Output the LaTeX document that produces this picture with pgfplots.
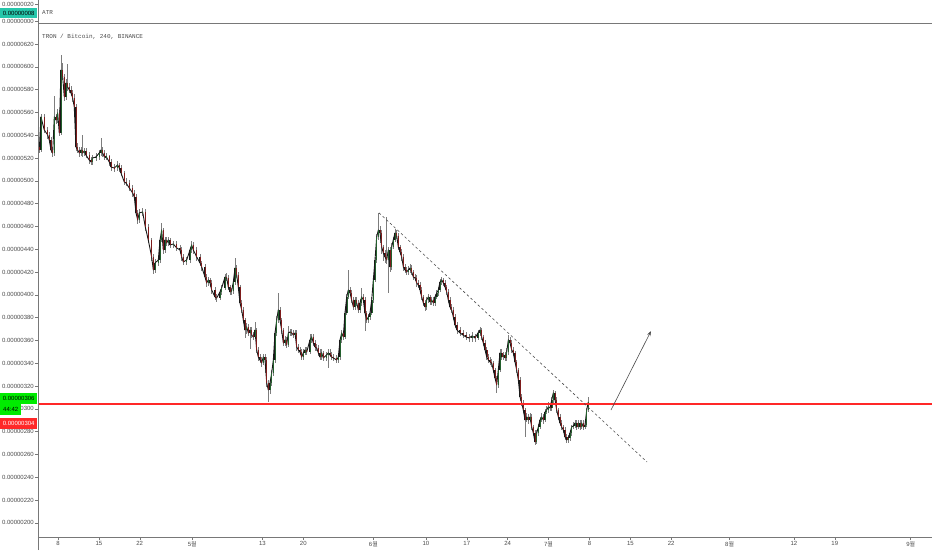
\documentclass[border=0pt]{standalone}
\usepackage{fontspec}
\setmainfont{Liberation Sans}
\newfontfamily\kr{Noto Sans CJK KR}
\newfontfamily\mono{Liberation Mono}
\usepackage{pgfplots}
\pgfplotsset{compat=1.18}
\usepackage{pgfplotstable}
\usetikzlibrary{arrows.meta}
\definecolor{wick}{RGB}{125,125,125}
\definecolor{upc}{RGB}{35,95,45}
\definecolor{dnc}{RGB}{125,28,28}
\definecolor{lvl}{RGB}{255,40,40}
\definecolor{axc}{RGB}{120,120,120}
\definecolor{lbl}{RGB}{75,75,75}
\definecolor{atrc}{RGB}{38,198,170}
\definecolor{pgreen}{RGB}{0,235,0}

\pgfplotstableread{
x o h l c
3.80 530.0 533 524 527.0
4.09 527.0 559 525 556.0
4.65 556.0 559 542 544.6
5.24 544.6 547 537 540.2
5.51 540.2 543 533 535.8
5.80 535.8 538 524 527.0
6.09 527.0 530 521 524.4
6.37 524.4 574.4 522 556.0
6.66 556.0 559 550 553.3
6.95 553.3 563 551 559.5
7.22 559.5 562 539 541.9
7.51 541.9 610.4 540 597.2
7.81 597.2 603 588 591.1
8.08 591.1 594 570 573.5
8.37 573.5 589 571 585.8
8.66 585.8 602 579 582.3
8.94 582.3 586 577 579.7
9.23 579.7 583 574 577.0
9.52 577.0 580 569 572.6
9.79 572.6 576 562 564.7
10.08 564.7 567 526 529.7
10.37 529.7 533 524 527.0
10.65 527.0 530 521 524.4
10.94 524.4 530 522 527.0
11.23 527.0 540 521 524.4
11.50 524.4 529 522 526.1
11.79 526.1 529 520 522.6
12.36 522.6 525 515 518.2
12.65 518.2 521 514 516.5
12.94 516.5 523 514 520.0
13.51 520.0 524 517 520.9
14.07 520.9 527 518 524.4
14.36 524.4 537.5 522 527.0
14.65 527.0 530 521 524.4
14.93 524.4 527 518 520.9
15.22 520.9 524 518 521.5
15.78 521.5 523 513 516.5
16.08 516.5 519 509 512.1
16.64 512.1 515 508 511.2
17.22 511.2 517 509 513.9
17.50 513.9 516 508 511.2
17.79 511.2 514 504 506.8
18.35 506.8 509 496 499.0
18.64 499.0 502 495 498.1
19.21 498.1 501 491 493.7
19.79 493.7 496 486 489.3
20.07 489.3 492 483 485.8
20.36 485.8 488 469 471.8
20.65 471.8 474 462 465.6
20.92 465.6 475 463 471.8
21.50 471.8 476 469 472.6
21.95 472.6 475 456 459.5
22.46 459.5 462 445 448.1
23.04 448.1 450 430 433.2
23.32 433.2 436 418 421.8
23.61 421.8 431 419 427.9
24.18 427.9 434 425 430.5
24.47 430.5 451 428 448.1
24.76 448.1 462.6 446 456.8
25.03 456.8 459 436 439.3
25.32 439.3 451 437 448.1
25.61 448.1 451 443 445.4
25.89 445.4 451 443 448.1
26.18 448.1 450 441 443.7
26.74 443.7 447 441 444.5
27.33 444.5 447 438 441.1
27.89 441.1 444 436 439.3
28.18 439.3 442 430 433.2
28.46 433.2 436 426 428.8
29.04 428.8 433 426 430.5
29.60 430.5 442 428 439.3
29.89 439.3 447 437 443.7
30.17 443.7 446 436 439.3
30.75 439.3 442 430 433.2
31.32 433.2 436 425 427.9
31.61 427.9 430 421 424.4
32.17 424.4 427 413 415.6
32.46 415.6 418 407 410.4
32.74 410.4 416 408 413.0
33.03 413.0 415 407 410.4
33.32 410.4 413 401 404.2
33.88 404.2 407 395 398.1
34.18 398.1 401 394 397.2
34.74 397.2 405 395 402.5
35.03 402.5 409 400 406.0
35.60 406.0 418 404 415.6
35.89 415.6 419 412 414.7
36.16 414.7 417 404 406.8
36.45 406.8 409 400 402.5
36.74 402.5 406 400 403.5
37.02 403.5 414 401 411.2
37.31 411.2 432.3 409 423.5
37.60 423.5 426 415 417.4
37.87 417.4 420 404 406.8
38.16 406.8 409 390 392.8
38.46 392.8 395 384 386.7
38.73 386.7 389 375 377.9
39.02 377.9 380 362 369.1
39.31 369.1 375 366 371.8
39.59 371.8 374 364 366.5
39.88 366.5 372 352 369.1
40.17 369.1 372 362 364.7
40.44 364.7 367 360 363.0
40.73 363.0 376 361 369.1
41.02 369.1 371 349 351.6
41.30 351.6 354 342 345.4
41.59 345.4 348 340 342.8
41.88 342.8 345 337 340.2
42.15 340.2 348 338 345.4
42.45 345.4 348 331 342.8
42.74 342.8 345 319 322.6
43.01 322.6 325 306.0 316.5
43.30 316.5 326 313 322.6
43.59 322.6 334 320 331.4
43.87 331.4 346 329 342.8
44.16 342.8 369 340 366.5
44.45 366.5 381 364 377.9
44.72 377.9 401.6 375 386.7
45.01 386.7 389 375 377.9
45.30 377.9 380 366 369.1
45.58 369.1 371 355 357.7
45.87 357.7 364 355 360.4
46.16 360.4 363 353 356.0
46.44 356.0 373 354 366.5
46.73 366.5 370 364 367.4
47.02 367.4 370 364 366.5
47.29 366.5 369 362 364.7
47.58 364.7 369 362 366.5
47.87 366.5 369 351 354.2
48.15 354.2 357 349 351.6
48.44 351.6 354 347 349.8
48.73 349.8 352 343 345.4
49.00 345.4 352 343 349.0
49.29 349.0 354 347 351.6
49.59 351.6 354 347 349.8
50.15 349.8 366 348 360.4
50.44 360.4 366 358 363.0
50.72 363.0 366 355 357.7
51.01 357.7 360 351 354.2
51.30 354.2 357 351 353.3
51.57 353.3 356 346 349.0
51.86 349.0 352 343 345.4
52.15 345.4 352 343 349.0
52.43 349.0 351 342 344.6
53.01 344.6 350 342 347.2
53.28 347.2 352 335.8 349.0
53.58 349.0 352 345 347.2
53.87 347.2 350 343 345.4
54.14 345.4 348 342 344.6
54.72 344.6 347 340 342.8
55.00 342.8 348 340 345.4
55.29 345.4 363 343 360.4
55.58 360.4 369 358 366.5
55.85 366.5 369 360 363.0
56.14 363.0 387 361 384.0
56.44 384.0 401 382 398.1
56.71 398.1 421.8 396 404.2
57.00 404.2 407 399 401.6
57.29 401.6 404 393 395.4
57.57 395.4 398 387 389.3
57.86 389.3 398 387 395.4
58.15 395.4 398 390 392.8
58.42 392.8 395 384 386.7
58.71 386.7 396 384 392.8
59.00 392.8 406 390 398.1
59.28 398.1 401 393 395.4
59.57 395.4 398 368 384.0
59.86 384.0 386 375 377.9
60.13 377.9 383 375 380.5
60.42 380.5 387 378 384.0
60.72 384.0 398 382 395.4
60.99 395.4 416 393 413.0
61.28 413.0 433 411 430.5
61.57 430.5 453 428 450.7
61.85 450.7 471.8 448 456.8
62.14 456.8 460 445 454.2
62.43 454.2 457 436 441.9
62.70 441.9 444 430 436.7
62.99 436.7 439 428 433.2
63.28 433.2 468.3 427 430.5
63.56 430.5 442 401.6 439.3
63.85 439.3 442 420 424.4
64.14 424.4 445 422 441.9
64.41 441.9 451 440 448.1
64.71 448.1 458 446 454.2
65.00 454.2 457 449 451.6
65.27 451.6 454 439 441.9
65.56 441.9 444 435 437.6
65.85 437.6 440 430 433.2
66.13 433.2 436 421 424.4
66.42 424.4 427 419 421.8
66.71 421.8 424 417 420.0
66.98 420.0 425 417 421.8
67.27 421.8 427 419 423.5
67.56 423.5 426 417 420.0
67.84 420.0 422 413 415.6
68.13 415.6 418 412 414.7
68.42 414.7 417 407 410.4
68.69 410.4 413 406 408.6
68.99 408.6 411 401 404.2
69.28 404.2 407 395 398.1
69.55 398.1 400 390 392.8
69.84 392.8 395 386 389.3
70.13 389.3 398 387 395.4
70.41 395.4 401 393 398.1
70.70 398.1 400 391 393.7
70.99 393.7 398 391 395.4
71.26 395.4 398 390 392.8
71.55 392.8 401 390 398.1
71.85 398.1 404 396 401.6
72.12 401.6 407 399 404.2
72.41 404.2 414 402 411.2
72.70 411.2 416 409 413.0
72.98 413.0 415 408 410.4
73.27 410.4 413 404 406.8
73.56 406.8 409 400 402.5
73.83 402.5 405 393 395.4
74.12 395.4 398 387 389.3
74.41 389.3 392 384 386.7
74.69 386.7 389 378 380.5
74.98 380.5 383 371 373.5
75.32 373.5 376 366 369.1
75.84 369.1 372 364 366.5
76.35 366.5 369 362 364.7
76.86 364.7 367 360 363.0
77.38 363.0 366 359 362.1
77.89 362.1 367 359 363.9
78.40 363.9 366 359 362.1
78.92 362.1 369 360 366.5
79.26 366.5 372 364 369.1
79.55 369.1 371 360 363.0
79.82 363.0 365 355 357.7
80.12 357.7 360 349 351.6
80.41 351.6 354 343 345.4
80.68 345.4 348 340 342.8
80.97 342.8 345 338 341.1
81.26 341.1 344 337 340.2
81.54 340.2 342 331 334.0
81.83 334.0 336 324 327.0
82.12 327.0 329 313.9 320.9
82.39 320.9 337 318 334.0
82.68 334.0 352 332 349.0
82.98 349.0 352 343 345.4
83.25 345.4 350 343 347.2
83.54 347.2 350 342 344.6
83.83 344.6 353 342 349.8
84.11 349.8 364.7 347 360.4
84.40 360.4 363 355 357.7
84.69 357.7 360 349 351.6
84.96 351.6 354 346 349.0
85.25 349.0 351 338 341.1
85.54 341.1 343 331 334.0
85.82 334.0 336 322 325.3
86.11 325.3 328 307 310.4
86.40 310.4 313 302 305.1
86.67 305.1 308 296 298.9
86.97 298.9 301 275.3 290.2
87.26 290.2 296 288 292.8
87.53 292.8 295 287 290.2
87.82 290.2 296 288 292.8
88.11 292.8 295 281 284.0
88.39 284.0 286 276 278.8
88.68 278.8 281 268.3 270.9
88.97 270.9 281 269 278.8
89.24 278.8 287 276 284.0
89.53 284.0 293 282 290.2
89.82 290.2 296 288 292.8
90.10 292.8 295 287 290.2
90.39 290.2 300 288 297.2
90.68 297.2 302 295 298.9
90.95 298.9 306 296 301.6
91.25 301.6 304 298 300.7
91.54 300.7 310 298 307.7
91.81 307.7 316.5 305 313.9
92.10 313.9 316 305 307.7
92.39 307.7 310 296 298.9
92.67 298.9 301 290 292.8
92.96 292.8 295 285 287.5
93.25 287.5 290 281 284.0
93.52 284.0 286 279 281.4
93.81 281.4 284 273 275.3
94.11 275.3 278 270 272.6
94.38 272.6 277 270 274.4
94.67 274.4 281 272 278.8
94.96 278.8 286 276 284.0
95.24 284.0 288 282 285.0
95.53 285.0 290 283 287.5
95.82 287.5 290 281 284.0
96.09 284.0 290 282 287.5
96.38 287.5 290 281 284.0
96.67 284.0 290 282 287.5
96.95 287.5 290 281 284.0
97.24 284.0 288 282 285.8
97.53 285.8 301 284 298.9
97.80 298.9 310.4 297 306.0
}\candles

\begin{document}
\begin{tikzpicture}[x=1pt,y=1pt]
\useasboundingbox (0,0) rectangle (932,550);
\fill[white] (0,0) rectangle (932,550);
\begin{axis}[
  at={(38pt,13pt)}, anchor=south west, scale only axis,
  width=894pt, height=514pt,
  xmin=3.58, xmax=156.65, ymin=187.5, ymax=638.4,
  axis x line*=bottom, axis y line*=left,
  axis line style={axc, line width=0.5pt, -},
  tick align=outside, major tick length=3pt,
  tick style={axc, line width=0.4pt},
  xtick={7,14,21,30,42,49,61,70,77,84,91,98,105,112,122,133,140,153},
  xticklabels={8,15,22,5{\kr 월},13,20,6{\kr 월},10,17,24,7{\kr 월},8,15,22,8{\kr 월},12,19,9{\kr 월}},
  ytick={200,220,...,620},
  yticklabels={0.00000200,0.00000220,0.00000240,0.00000260,0.00000280,0.00000300,0.00000320,0.00000340,0.00000360,0.00000380,0.00000400,0.00000420,0.00000440,0.00000460,0.00000480,0.00000500,0.00000520,0.00000540,0.00000560,0.00000580,0.00000600,0.00000620},
  ticklabel style={font=\fontsize{6}{7}\selectfont, text=lbl},
  xticklabel style={inner sep=1.5pt},
  yticklabel style={inner sep=1pt},
  clip=true,
]
% wicks
\addplot[draw=none, mark=none, forget plot,
  error bars/.cd, y dir=both, y explicit, error mark=none,
  error bar style={draw=wick, line width=0.7pt}]
  table[x=x, y=c, y error plus expr={\thisrow{h}-\thisrow{c}}, y error minus expr={\thisrow{c}-\thisrow{l}}] {\candles};
% close path (joins the candle bodies)
\addplot[black!90, line width=0.9pt, mark=none, forget plot, line join=round] table[x=x, y=c] {\candles};
% body outlines
\addplot[draw=none, mark=none, forget plot,
  error bars/.cd, y dir=both, y explicit, error mark=none,
  error bar style={draw=black!90, line width=1.3pt}]
  table[x=x, y expr={(\thisrow{o}+\thisrow{c})/2}, y error expr={abs(\thisrow{c}-\thisrow{o})/2}] {\candles};
% up bodies
\addplot[draw=none, mark=none, forget plot,
  error bars/.cd, y dir=both, y explicit, error mark=none,
  error bar style={draw=upc, line width=0.45pt}]
  table[x=x, y expr={(\thisrow{o}+\thisrow{c})/2}, y error expr={max(\thisrow{c}-\thisrow{o},0)/2}] {\candles};
% down bodies
\addplot[draw=none, mark=none, forget plot,
  error bars/.cd, y dir=both, y explicit, error mark=none,
  error bar style={draw=dnc, line width=0.45pt}]
  table[x=x, y expr={(\thisrow{o}+\thisrow{c})/2}, y error expr={max(\thisrow{o}-\thisrow{c},0)/2}] {\candles};
% level line
\addplot[lvl, line width=1.6pt, forget plot] coordinates {(3.58,304.2) (156.65,304.2)};
% trend line
\addplot[black!70, line width=0.6pt, dash pattern=on 2.5pt off 2.5pt, forget plot] coordinates {(61.97,471.8) (107.86,253.3)};
% arrow
\addplot[black!70, line width=0.6pt, -{Stealth[length=5pt,width=3.5pt]}, forget plot] coordinates {(101.69,298.9) (108.54,368.2)};
\end{axis}
% frame lines
\draw[axc, line width=0.5pt] (38,0) -- (38,550);
\draw[axc, line width=0.5pt] (38,527) -- (932,527);
% ATR panel
\draw[axc, line width=0.4pt] (35,546) -- (38,546);
\draw[axc, line width=0.4pt] (35,529) -- (38,529);
\node[anchor=east, font=\fontsize{6}{7}\selectfont, text=lbl, inner sep=1pt] at (35,546) {0.00000020};
\node[anchor=east, font=\fontsize{6}{7}\selectfont, text=lbl, inner sep=1pt] at (35,529) {0.00000000};
\node[anchor=west, fill=atrc, minimum width=37pt, minimum height=10pt, inner sep=0pt, font=\fontsize{6}{7}\selectfont, text=black] at (0,537) {0.00000008};
\node[anchor=west, font=\mono\fontsize{6}{7}\selectfont, text=lbl, inner sep=0pt] at (42,537) {ATR};
\node[anchor=west, font=\mono\fontsize{6}{7}\selectfont, text=lbl, inner sep=0pt] at (42,513) {TRON / Bitcoin, 240, BINANCE};
% price labels
\node[anchor=west, fill=pgreen, minimum width=37pt, minimum height=11pt, inner sep=0pt, font=\fontsize{6}{7}\selectfont, text=black] at (0,152) {0.00000306};
\node[anchor=west, fill=pgreen, minimum width=21pt, minimum height=11pt, inner sep=0pt, font=\fontsize{6}{7}\selectfont, text=black] at (0,140.5) {44:42};
\node[anchor=west, fill=lvl, minimum width=37pt, minimum height=11pt, inner sep=0pt, font=\fontsize{6}{7}\selectfont, text=white] at (0,127) {0.00000304};
\end{tikzpicture}
\end{document}
